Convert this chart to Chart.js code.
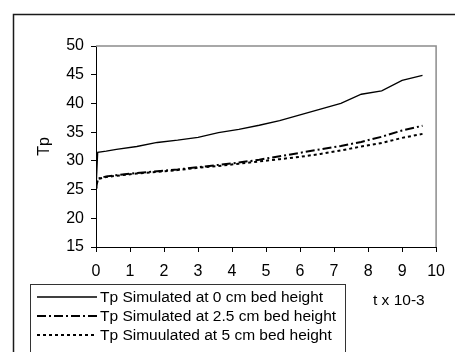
<!DOCTYPE html>
<html>
<head>
<meta charset="utf-8">
<script src="https://cdn.jsdelivr.net/npm/chart.js@4"></script>
<style>
  html, body { margin: 0; padding: 0; background: #fff; }
  #wrap { width: 455px; height: 352px; }
</style>
</head>
<body>
<div id="wrap"><canvas id="tpChart" width="455" height="352"></canvas></div>
<script>
// time (t x 10-3) and particle temperature series
const tValues = [0, 0.05, 0.3, 0.6, 1.2, 1.8, 2.4, 3.0, 3.6, 4.2, 4.8, 5.4, 6.0, 6.6, 7.2, 7.8, 8.4, 9.0, 9.6];
const tp0cm   = [25, 31.5, 31.7, 32.0, 32.5, 33.2, 33.6, 34.1, 34.9, 35.5, 36.2, 37.0, 38.0, 39.0, 40.0, 41.6, 42.2, 44.0, 44.9];
const tp25cm  = [25, 26.9, 27.3, 27.5, 27.9, 28.2, 28.5, 28.9, 29.3, 29.7, 30.2, 30.8, 31.4, 32.0, 32.6, 33.3, 34.2, 35.3, 36.1];
const tp5cm   = [25, 26.8, 27.2, 27.4, 27.8, 28.1, 28.4, 28.8, 29.1, 29.5, 29.9, 30.3, 30.7, 31.2, 31.8, 32.5, 33.1, 34.0, 34.7];
const seriesNames = [
  'Tp Simulated at 0 cm bed height',
  'Tp Simulated at 2.5 cm bed height',
  'Tp Simuulated at 5 cm bed height'
];
const xTitle = 't x 10-3';
const yTitle = 'Tp';

const FONT = "'Liberation Sans', Arial, sans-serif";

function pts(ys) {
  return tValues.map((t, i) => ({ x: t, y: ys[i] }));
}

const dashStyles = [[], [9, 3, 2, 3], [3, 3]];
const widths = [1.3, 2, 2];

// frame, gray plot border, legend box and x caption
const decorations = {
  id: 'decorations',
  beforeDatasetsDraw(chart) {
    const { ctx, chartArea: a } = chart;
    ctx.save();
    ctx.strokeStyle = '#8c8c8c';
    ctx.lineWidth = 1.5;
    ctx.beginPath();
    ctx.moveTo(a.left, a.top);
    ctx.lineTo(a.right, a.top);
    ctx.lineTo(a.right, a.bottom);
    ctx.stroke();
    ctx.restore();
  },
  afterDraw(chart) {
    const ctx = chart.ctx;
    ctx.save();
    // outer frame
    ctx.strokeStyle = '#1a1a1a';
    ctx.lineWidth = 1.5;
    ctx.strokeRect(13.5, 14.5, 500, 400);

    // legend box
    ctx.lineWidth = 1;
    ctx.strokeStyle = '#333';
    ctx.strokeRect(30.5, 284.5, 315, 100);

    ctx.font = '15.5px ' + FONT;
    ctx.fillStyle = '#000';
    ctx.textBaseline = 'middle';
    const rows = [297, 316, 335];
    rows.forEach((y, i) => {
      ctx.beginPath();
      ctx.setLineDash(dashStyles[i]);
      ctx.lineWidth = widths[i];
      ctx.strokeStyle = '#000';
      ctx.moveTo(37, y);
      ctx.lineTo(97, y);
      ctx.stroke();
      ctx.setLineDash([]);
      ctx.fillText(seriesNames[i], 100, y + 1);
    });

    ctx.font = '15.5px ' + FONT;
    ctx.textAlign = 'left';
    ctx.fillText(xTitle, 373, 301);
    ctx.restore();
  }
};

const ctx = document.getElementById('tpChart').getContext('2d');
const tpChart = new Chart(ctx, {
  type: 'scatter',
  data: {
    datasets: [tp0cm, tp25cm, tp5cm].map((ys, i) => ({
      label: seriesNames[i],
      data: pts(ys),
      showLine: true,
      borderColor: '#000',
      borderWidth: widths[i],
      borderDash: dashStyles[i],
      pointRadius: 0,
      tension: 0,
      fill: false,
    })),
  },
  options: {
    responsive: false,
    animation: false,
    layout: {
      padding: { left: 35, right: 16, top: 46, bottom: 69 },
    },
    plugins: {
      legend: { display: false },
      tooltip: { enabled: false },
    },
    scales: {
      x: {
        type: 'linear',
        min: 0,
        max: 10,
        afterFit(scale) { scale.height = 36; },
        ticks: {
          stepSize: 1,
          color: '#000',
          padding: 10,
          maxRotation: 0,
          font: { family: FONT, size: 16 },
        },
        grid: {
          drawOnChartArea: false,
          drawTicks: true,
          tickLength: 5,
          color: '#000',
        },
        border: { display: true, color: '#000', width: 1 },
      },
      y: {
        min: 15,
        max: 50,
        afterFit(scale) { scale.width = 61; },
        ticks: {
          stepSize: 5,
          color: '#000',
          padding: 7,
          font: { family: FONT, size: 16 },
        },
        grid: {
          drawOnChartArea: false,
          drawTicks: true,
          tickLength: 5,
          color: '#000',
        },
        border: { display: true, color: '#000', width: 1 },
        title: {
          display: true,
          text: yTitle,
          color: '#000',
          padding: { top: 0, bottom: 0 },
          font: { family: FONT, size: 16, weight: 'normal' },
        },
      },
    },
  },
  plugins: [decorations],
});
</script>
</body>
</html>
